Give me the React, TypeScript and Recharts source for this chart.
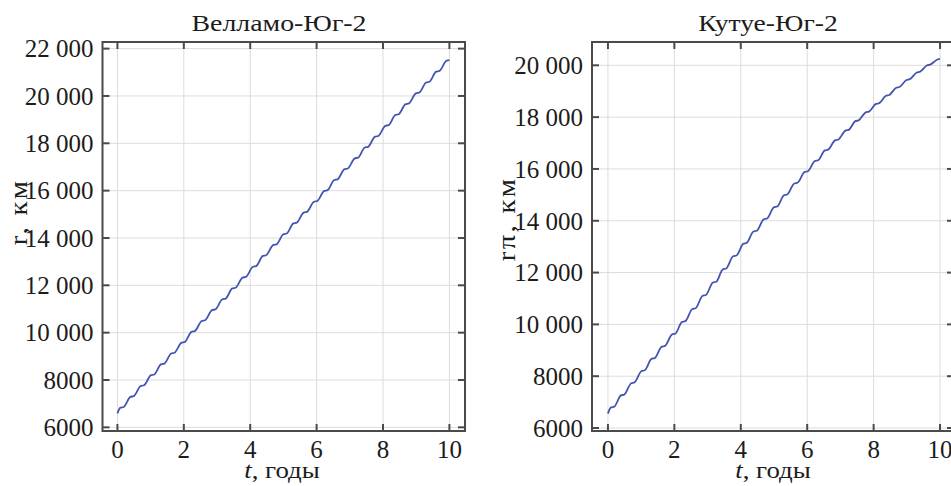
import React from 'react';
import { LineChart, Line, XAxis, YAxis, CartesianGrid, ReferenceArea } from 'recharts';

// time, years
const tYears = [
  0,
  0.09, 0.19, 0.39, 0.49, 0.70, 0.80, 1.01, 1.11, 1.31, 1.41,
  1.62, 1.72, 1.93, 2.03, 2.23, 2.33, 2.54, 2.64, 2.85, 2.95,
  3.16, 3.26, 3.46, 3.56, 3.77, 3.87, 4.08, 4.18, 4.38, 4.48,
  4.69, 4.79, 5.00, 5.10, 5.30, 5.40, 5.61, 5.71, 5.92, 6.02,
  6.23, 6.33, 6.53, 6.63, 6.84, 6.94, 7.15, 7.25, 7.45, 7.55,
  7.76, 7.86, 8.07, 8.17, 8.37, 8.47, 8.68, 8.78, 8.99, 9.09,
  9.30, 9.40, 9.60, 9.70, 9.91, 10.0,
];

// r, km — Велламо-Юг-2
const rVellamo = [
  6590,
  6830, 6860, 7288, 7318, 7746, 7776, 8204, 8234, 8662, 8692,
  9120, 9150, 9578, 9608, 10036, 10066, 10494, 10524, 10952, 10982,
  11410, 11440, 11868, 11898, 12326, 12356, 12784, 12814, 13242, 13272,
  13700, 13730, 14158, 14188, 14616, 14646, 15074, 15104, 15532, 15562,
  15990, 16020, 16448, 16478, 16906, 16936, 17364, 17394, 17822, 17852,
  18280, 18310, 18738, 18768, 19196, 19226, 19654, 19684, 20112, 20142,
  20570, 20600, 21028, 21058, 21486, 21516,
];

// rπ, km — Кутуе-Юг-2
const rKutye = [
  6556,
  6795, 6825, 7260, 7290, 7730, 7760, 8200, 8230, 8670, 8700,
  9140, 9170, 9615, 9645, 10095, 10125, 10595, 10625, 11105, 11135,
  11615, 11645, 12125, 12155, 12630, 12660, 13115, 13145, 13585, 13615,
  14055, 14085, 14525, 14555, 14985, 15015, 15440, 15470, 15880, 15910,
  16305, 16335, 16715, 16745, 17105, 17135, 17480, 17510, 17845, 17875,
  18185, 18215, 18510, 18540, 18825, 18855, 19135, 19165, 19435, 19465,
  19725, 19755, 19995, 20025, 20215, 20245,
];

const xTicks = [0, 2, 4, 6, 8, 10];
const yTicksVellamo = [6000, 8000, 10000, 12000, 14000, 16000, 18000, 20000, 22000];
const yTicksKutye = [6000, 8000, 10000, 12000, 14000, 16000, 18000, 20000];

const titles = ['Велламо-Юг-2', 'Кутуе-Юг-2'];
const yLabels = ['r, км', 'rπ, км'];

const FONT = '"Liberation Serif", "Times New Roman", Times, serif';
const TEXT = '#1c1c1c';
const FRAME = '#4a4a4a';
const GRID = '#dcdcdc';
const LINE = '#4454b2';
const FS = 25;

const fmt = (v: number) =>
  v >= 10000 ? `${Math.floor(v / 1000)}\u00A0${String(v % 1000).padStart(3, '0')}` : String(v);

function YTick(props: any) {
  const { y, payload, pl, pr } = props;
  return (
    <g>
      <line x1={pl} x2={pl + 7} y1={y} y2={y} stroke={FRAME} strokeWidth={2} />
      <line x1={pr - 7} x2={pr} y1={y} y2={y} stroke={FRAME} strokeWidth={2} />
      <text
        x={pl - 9}
        y={y}
        dy="0.35em"
        textAnchor="end"
        style={{ fontFamily: FONT, fontSize: FS, fill: TEXT }}
      >
        {fmt(payload.value)}
      </text>
    </g>
  );
}

function XTick(props: any) {
  const { x, payload, pt, pb } = props;
  return (
    <g>
      <line x1={x} x2={x} y1={pb} y2={pb - 7} stroke={FRAME} strokeWidth={2} />
      <line x1={x} x2={x} y1={pt} y2={pt + 7} stroke={FRAME} strokeWidth={2} />
      <text
        x={x}
        y={pb + 9}
        dy="0.7em"
        textAnchor="middle"
        style={{ fontFamily: FONT, fontSize: FS, fill: TEXT }}
      >
        {payload.value}
      </text>
    </g>
  );
}

function Panel(props: {
  data: { t: number; r: number }[];
  xDomain: [number, number];
  yDomain: [number, number];
  yTicks: number[];
  width: number;
  yAxisWidth: number;
  marginRight: number;
}) {
  const { data, xDomain, yDomain, yTicks, width, yAxisWidth, marginRight } = props;
  const pt = 42;
  const pb = 431;
  const pl = yAxisWidth;
  const pr = width - marginRight;
  return (
    <LineChart width={width} height={486} data={data} margin={{ top: pt, right: marginRight, bottom: 0, left: 0 }}>
      <CartesianGrid stroke={GRID} strokeWidth={1} />
      <XAxis
        type="number"
        dataKey="t"
        domain={xDomain}
        ticks={xTicks}
        interval={0}
        allowDataOverflow
        height={486 - pb}
        tickSize={0}
        tickMargin={0}
        axisLine={false}
        tickLine={false}
        tick={<XTick pt={pt} pb={pb} />}
      />
      <YAxis
        type="number"
        domain={yDomain}
        ticks={yTicks}
        interval={0}
        allowDataOverflow
        width={yAxisWidth}
        tickSize={0}
        tickMargin={0}
        axisLine={false}
        tickLine={false}
        tick={<YTick pl={pl} pr={pr} />}
      />
      <Line dataKey="r" type="monotone" stroke={LINE} strokeWidth={1.8} dot={false} isAnimationActive={false} />
      <ReferenceArea
        x1={xDomain[0]}
        x2={xDomain[1]}
        y1={yDomain[0]}
        y2={yDomain[1]}
        fill="none"
        stroke={FRAME}
        strokeWidth={2}
        ifOverflow="visible"
      />
    </LineChart>
  );
}

export default function App() {
  const vellamoData = tYears.map((t, i) => ({ t, r: rVellamo[i] }));
  const kutyeData = tYears.map((t, i) => ({ t, r: rKutye[i] }));
  const txt = { fontFamily: FONT, fill: TEXT };
  return (
    <div
      style={{
        position: 'absolute',
        left: 0,
        top: 0,
        width: 951,
        height: 486,
        overflow: 'hidden',
        background: '#fff',
        fontFamily: FONT,
      }}
    >
      <div style={{ position: 'absolute', left: 0, top: 0 }}>
        <Panel
          data={vellamoData}
          xDomain={[-0.45, 10.47]}
          yDomain={[5845, 22280]}
          yTicks={yTicksVellamo}
          width={480}
          yAxisWidth={102.5}
          marginRight={15}
        />
      </div>
      <div style={{ position: 'absolute', left: 480, top: 0 }}>
        <Panel
          data={kutyeData}
          xDomain={[-0.48, 10.42]}
          yDomain={[5885, 20900]}
          yTicks={yTicksKutye}
          width={480}
          yAxisWidth={112}
          marginRight={6}
        />
      </div>
      <svg
        width={951}
        height={486}
        style={{ position: 'absolute', left: 0, top: 0, pointerEvents: 'none' }}
      >
        <text transform="translate(279,31) scale(1.16,1)" textAnchor="middle" style={{ ...txt, fontSize: 24 }}>
          {titles[0]}
        </text>
        <text transform="translate(768,31) scale(1.15,1)" textAnchor="middle" style={{ ...txt, fontSize: 24 }}>
          {titles[1]}
        </text>
        <text transform="translate(282,478) scale(1.12,1)" textAnchor="middle" style={{ ...txt, fontSize: 24 }}>
          <tspan style={{ fontStyle: 'italic' }}>t</tspan>, годы
        </text>
        <text transform="translate(773,478) scale(1.12,1)" textAnchor="middle" style={{ ...txt, fontSize: 24 }}>
          <tspan style={{ fontStyle: 'italic' }}>t</tspan>, годы
        </text>
        <text
          transform="translate(27,212) rotate(-90) scale(1.15,1)"
          textAnchor="middle"
          style={{ ...txt, fontSize: 25, letterSpacing: 2 }}
        >
          {yLabels[0]}
        </text>
        <text
          transform="translate(515,219) rotate(-90) scale(1.15,1)"
          textAnchor="middle"
          style={{ ...txt, fontSize: 25, letterSpacing: 2 }}
        >
          {yLabels[1]}
        </text>
      </svg>
    </div>
  );
}
